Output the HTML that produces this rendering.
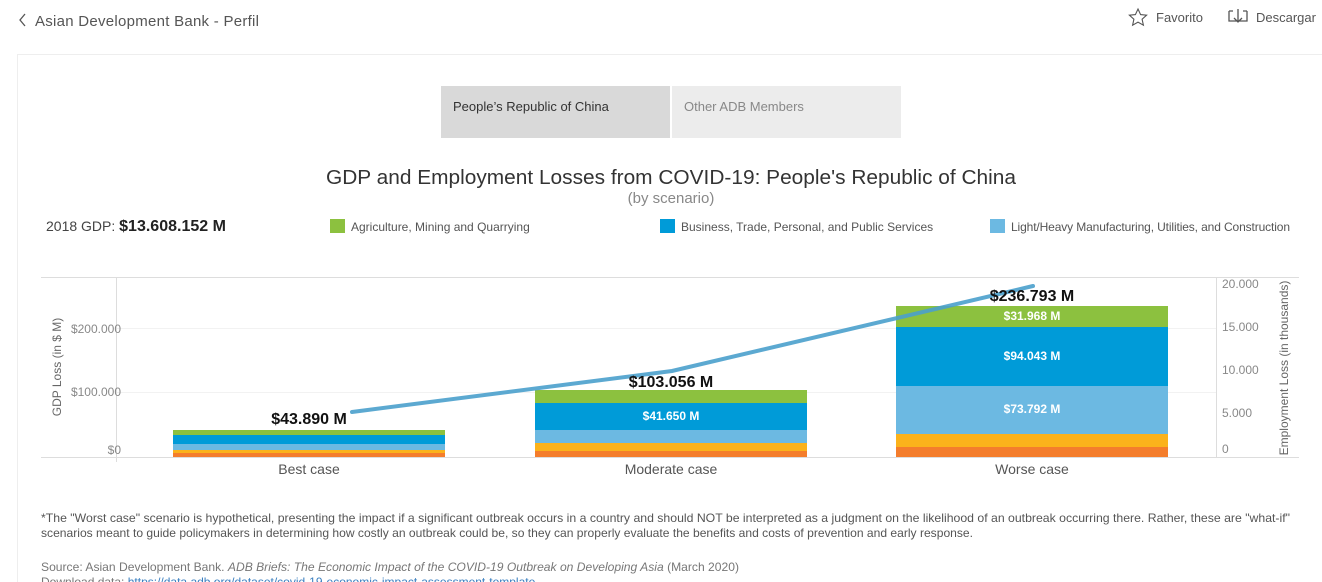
<!DOCTYPE html>
<html><head><meta charset="utf-8"><style>html,body{margin:0;padding:0;background:#fff;overflow:hidden}svg{display:block}text{font-family:"Liberation Sans",Arial,sans-serif}</style></head><body>
<svg width="1322" height="582" viewBox="0 0 1322 582" xmlns="http://www.w3.org/2000/svg">
<rect width="1322" height="582" fill="#fff"/>
<path d="M25 14 L20 20 L25 26" fill="none" stroke="#555" stroke-width="1.3"/>
<text x="35" y="26" font-size="15" fill="#555" textLength="224">Asian Development Bank - Perfil</text>
<path d="M1138 9 l2.6 5.6 6 .6 -4.5 4 1.3 6 -5.4 -3.1 -5.4 3.1 1.3 -6 -4.5 -4 6 -.6z" fill="none" stroke="#555" stroke-width="1.1"/>
<text x="1156" y="22" font-size="13" fill="#555">Favorito</text>
<path d="M1229 11 h4 M1243 11 h4 M1229 11 v10 h18 v-10 M1238 9 v13 M1234 18 l4 4 4-4" fill="none" stroke="#555" stroke-width="1.3"/>
<text x="1256" y="22" font-size="13" fill="#555">Descargar</text>
<rect x="17.5" y="54.5" width="1310" height="540" fill="#fff" stroke="#eee"/>
<rect x="441" y="86" width="229" height="52" fill="#d9d9d9"/>
<rect x="672" y="86" width="229" height="52" fill="#ececec"/>
<text x="453" y="111" font-size="13" fill="#333">People’s Republic of China</text>
<text x="684" y="111" font-size="13" fill="#888">Other ADB Members</text>
<text x="326" y="184" font-size="20" fill="#333" textLength="690" lengthAdjust="spacingAndGlyphs">GDP and Employment Losses from COVID-19: People's Republic of China</text>
<text x="671" y="203" font-size="15" fill="#888" text-anchor="middle">(by scenario)</text>
<text x="46" y="231" font-size="14" fill="#444">2018 GDP: <tspan font-weight="bold" font-size="16" fill="#222">$13.608.152 M</tspan></text>
<rect x="330" y="219" width="15" height="14" fill="#8cc13f"/>
<text x="351" y="231" font-size="12" fill="#555">Agriculture, Mining and Quarrying</text>
<rect x="660" y="219" width="15" height="14" fill="#009bd8"/>
<text x="681" y="231" font-size="12" fill="#555">Business, Trade, Personal, and Public Services</text>
<rect x="990" y="219" width="15" height="14" fill="#6cb9e2"/>
<text x="1011" y="231" font-size="12" fill="#555" textLength="279">Light/Heavy Manufacturing, Utilities, and Construction</text>
<line x1="41" y1="277.5" x2="1299" y2="277.5" stroke="#ddd"/>
<line x1="41" y1="457.5" x2="1299" y2="457.5" stroke="#ddd"/>
<line x1="116.5" y1="277" x2="116.5" y2="462" stroke="#ddd"/>
<line x1="1216.5" y1="277" x2="1216.5" y2="457" stroke="#ddd"/>
<line x1="117" y1="328.5" x2="1216" y2="328.5" stroke="#f2f2f2"/>
<line x1="117" y1="392.5" x2="1216" y2="392.5" stroke="#f2f2f2"/>
<g font-size="12" fill="#888" text-anchor="end">
<text x="121" y="333">$200.000</text><text x="121" y="396">$100.000</text><text x="121" y="454">$0</text></g>
<g font-size="12" fill="#888">
<text x="1222" y="288">20.000</text><text x="1222" y="331">15.000</text><text x="1222" y="374">10.000</text><text x="1222" y="417">5.000</text><text x="1222" y="453">0</text></g>
<text transform="translate(61,367) rotate(-90)" font-size="12" fill="#666" text-anchor="middle">GDP Loss (in $ M)</text>
<text transform="translate(1288,368) rotate(-90)" font-size="12" fill="#666" text-anchor="middle">Employment Loss (in thousands)</text>
<g>
<rect x="173" y="430" width="272" height="5" fill="#8cc13f"/><rect x="173" y="435" width="272" height="9" fill="#009bd8"/><rect x="173" y="444" width="272" height="6" fill="#6cb9e2"/><rect x="173" y="450" width="272" height="3" fill="#fbb21b"/><rect x="173" y="453" width="272" height="4" fill="#f47d2c"/>
<rect x="535" y="390" width="272" height="13" fill="#8cc13f"/><rect x="535" y="403" width="272" height="27" fill="#009bd8"/><rect x="535" y="430" width="272" height="13" fill="#6cb9e2"/><rect x="535" y="443" width="272" height="8" fill="#fbb21b"/><rect x="535" y="451" width="272" height="6" fill="#f47d2c"/>
<rect x="896" y="306" width="272" height="21" fill="#8cc13f"/><rect x="896" y="327" width="272" height="59" fill="#009bd8"/><rect x="896" y="386" width="272" height="48" fill="#6cb9e2"/><rect x="896" y="434" width="272" height="13" fill="#fbb21b"/><rect x="896" y="447" width="272" height="10" fill="#f47d2c"/>
</g>
<polyline points="352,412 672,371 1033,286" fill="none" stroke="#4aa0cc" stroke-width="4" stroke-linecap="round" opacity="0.9"/>
<g font-size="16" font-weight="bold" fill="#111" text-anchor="middle">
<text x="309" y="424">$43.890 M</text><text x="671" y="387">$103.056 M</text><text x="1032" y="301">$236.793 M</text></g>
<g font-size="12" font-weight="bold" fill="#fff" text-anchor="middle">
<text x="671" y="420">$41.650 M</text><text x="1032" y="320">$31.968 M</text><text x="1032" y="360">$94.043 M</text><text x="1032" y="413">$73.792 M</text></g>
<g font-size="14" fill="#555" text-anchor="middle">
<text x="309" y="474">Best case</text><text x="671" y="474">Moderate case</text><text x="1032" y="474">Worse case</text></g>
<g font-size="12" fill="#555">
<text x="41" y="522" textLength="1249" lengthAdjust="spacingAndGlyphs">*The "Worst case" scenario is hypothetical, presenting the impact if a significant outbreak occurs in a country and should NOT be interpreted as a judgment on the likelihood of an outbreak occurring there. Rather, these are "what-if"</text>
<text x="41" y="537" textLength="932" lengthAdjust="spacingAndGlyphs">scenarios meant to guide policymakers in determining how costly an outbreak could be, so they can properly evaluate the benefits and costs of prevention and early response.</text>
<text x="41" y="571" fill="#777" textLength="698" lengthAdjust="spacingAndGlyphs">Source: Asian Development Bank. <tspan font-style="italic">ADB Briefs: The Economic Impact of the COVID-19 Outbreak on Developing Asia</tspan> (March 2020)</text>
<text x="41" y="586" fill="#777">Download data: <tspan fill="#3a7fc0">https://data.adb.org/dataset/covid-19-economic-impact-assessment-template</tspan></text>
</g>
</svg>
</body></html>
